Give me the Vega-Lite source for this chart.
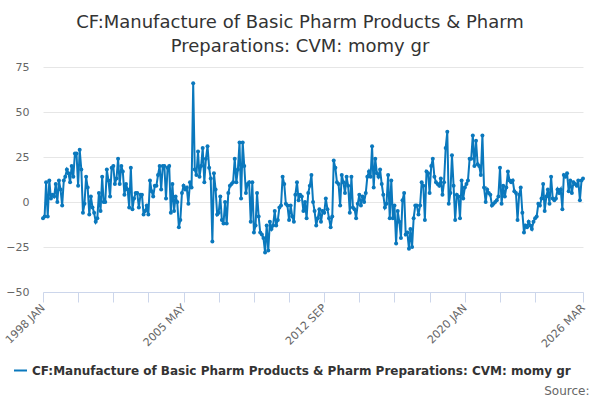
{
  "$schema": "https://vega.github.io/schema/vega-lite/v6.json",
  "autosize": {"type": "none"},
  "width": 540,
  "height": 225,
  "padding": {"left": 43, "top": 67, "right": 17, "bottom": 108},
  "background": "white",
  "config": {"font": "DejaVu Sans", "view": {"stroke": null}},
  "title": {
    "text": ["CF:Manufacture of Basic Pharm Products & Pharm", "Preparations: CVM: momy gr"],
    "fontSize": 18,
    "fontWeight": "normal",
    "color": "#333333",
    "font": "DejaVu Sans",
    "anchor": "middle",
    "frame": "group",
    "dx": -13,
    "offset": 5,
    "lineHeight": 24
  },
  "data": {
    "format": {"parse": {"d": "utc:'%Y-%m'"}},
    "values": [
      {"d":"1998-01","v":-9},{"d":"1998-02","v":-8},{"d":"1998-03","v":11},{"d":"1998-04","v":-8},{"d":"1998-05","v":12},{"d":"1998-06","v":2},{"d":"1998-07","v":4},{"d":"1998-08","v":3},{"d":"1998-09","v":10},{"d":"1998-10","v":0},{"d":"1998-11","v":12},{"d":"1998-12","v":7},
      {"d":"1999-01","v":-2},{"d":"1999-02","v":12},{"d":"1999-03","v":14},{"d":"1999-04","v":18},{"d":"1999-05","v":16},{"d":"1999-06","v":11},{"d":"1999-07","v":20},{"d":"1999-08","v":14},{"d":"1999-09","v":27},{"d":"1999-10","v":27},{"d":"1999-11","v":9},{"d":"1999-12","v":29},
      {"d":"2000-01","v":18},{"d":"2000-02","v":-6},{"d":"2000-03","v":-1},{"d":"2000-04","v":14},{"d":"2000-05","v":8},{"d":"2000-06","v":-7},{"d":"2000-07","v":3},{"d":"2000-08","v":-3},{"d":"2000-09","v":-6},{"d":"2000-10","v":-11},{"d":"2000-11","v":-9},{"d":"2000-12","v":5},
      {"d":"2001-01","v":-5},{"d":"2001-02","v":14},{"d":"2001-03","v":0},{"d":"2001-04","v":0},{"d":"2001-05","v":18},{"d":"2001-06","v":12},{"d":"2001-07","v":3},{"d":"2001-08","v":19},{"d":"2001-09","v":20},{"d":"2001-10","v":10},{"d":"2001-11","v":13},{"d":"2001-12","v":24},
      {"d":"2002-01","v":10},{"d":"2002-02","v":20},{"d":"2002-03","v":17},{"d":"2002-04","v":4},{"d":"2002-05","v":10},{"d":"2002-06","v":7},{"d":"2002-07","v":-3},{"d":"2002-08","v":19},{"d":"2002-09","v":-4},{"d":"2002-10","v":2},{"d":"2002-11","v":5},{"d":"2002-12","v":5},
      {"d":"2003-01","v":-3},{"d":"2003-02","v":4},{"d":"2003-03","v":4},{"d":"2003-04","v":-7},{"d":"2003-05","v":-5},{"d":"2003-06","v":-2},{"d":"2003-07","v":-7},{"d":"2003-08","v":12},{"d":"2003-09","v":6},{"d":"2003-10","v":3},{"d":"2003-11","v":9},{"d":"2003-12","v":9},
      {"d":"2004-01","v":15},{"d":"2004-02","v":20},{"d":"2004-03","v":7},{"d":"2004-04","v":20},{"d":"2004-05","v":20},{"d":"2004-06","v":2},{"d":"2004-07","v":19},{"d":"2004-08","v":20},{"d":"2004-09","v":-6},{"d":"2004-10","v":10},{"d":"2004-11","v":-5},{"d":"2004-12","v":3},
      {"d":"2005-01","v":0},{"d":"2005-02","v":-14},{"d":"2005-03","v":-10},{"d":"2005-04","v":5},{"d":"2005-05","v":9},{"d":"2005-06","v":7},{"d":"2005-07","v":8},{"d":"2005-08","v":-1},{"d":"2005-09","v":11},{"d":"2005-10","v":8},{"d":"2005-11","v":66},{"d":"2005-12","v":18},
      {"d":"2006-01","v":15},{"d":"2006-02","v":28},{"d":"2006-03","v":14},{"d":"2006-04","v":20},{"d":"2006-05","v":30},{"d":"2006-06","v":11},{"d":"2006-07","v":24},{"d":"2006-08","v":31},{"d":"2006-09","v":19},{"d":"2006-10","v":13},{"d":"2006-11","v":-22},{"d":"2006-12","v":16},
      {"d":"2007-01","v":7},{"d":"2007-02","v":-7},{"d":"2007-03","v":-6},{"d":"2007-04","v":3},{"d":"2007-05","v":-10},{"d":"2007-06","v":-12},{"d":"2007-07","v":0},{"d":"2007-08","v":-12},{"d":"2007-09","v":5},{"d":"2007-10","v":9},{"d":"2007-11","v":10},{"d":"2007-12","v":11},
      {"d":"2008-01","v":24},{"d":"2008-02","v":11},{"d":"2008-03","v":18},{"d":"2008-04","v":33},{"d":"2008-05","v":2},{"d":"2008-06","v":33},{"d":"2008-07","v":20},{"d":"2008-08","v":5},{"d":"2008-09","v":10},{"d":"2008-10","v":11},{"d":"2008-11","v":-11},{"d":"2008-12","v":11},
      {"d":"2009-01","v":-17},{"d":"2009-02","v":-13},{"d":"2009-03","v":5},{"d":"2009-04","v":-8},{"d":"2009-05","v":-17},{"d":"2009-06","v":-18},{"d":"2009-07","v":-20},{"d":"2009-08","v":-28},{"d":"2009-09","v":-13},{"d":"2009-10","v":-27},{"d":"2009-11","v":-11},{"d":"2009-12","v":-15},
      {"d":"2010-01","v":-13},{"d":"2010-02","v":-5},{"d":"2010-03","v":-13},{"d":"2010-04","v":-10},{"d":"2010-05","v":-3},{"d":"2010-06","v":-2},{"d":"2010-07","v":14},{"d":"2010-08","v":10},{"d":"2010-09","v":-1},{"d":"2010-10","v":-2},{"d":"2010-11","v":-10},{"d":"2010-12","v":-2},
      {"d":"2011-01","v":-8},{"d":"2011-02","v":-11},{"d":"2011-03","v":4},{"d":"2011-04","v":11},{"d":"2011-05","v":1},{"d":"2011-06","v":4},{"d":"2011-07","v":3},{"d":"2011-08","v":-5},{"d":"2011-09","v":0},{"d":"2011-10","v":-9},{"d":"2011-11","v":5},{"d":"2011-12","v":9},
      {"d":"2012-01","v":15},{"d":"2012-02","v":0},{"d":"2012-03","v":-5},{"d":"2012-04","v":-13},{"d":"2012-05","v":-9},{"d":"2012-06","v":-4},{"d":"2012-07","v":-11},{"d":"2012-08","v":-5},{"d":"2012-09","v":-6},{"d":"2012-10","v":2},{"d":"2012-11","v":-4},{"d":"2012-12","v":-9},
      {"d":"2013-01","v":-14},{"d":"2013-02","v":-8},{"d":"2013-03","v":23},{"d":"2013-04","v":19},{"d":"2013-05","v":11},{"d":"2013-06","v":10},{"d":"2013-07","v":-2},{"d":"2013-08","v":15},{"d":"2013-09","v":11},{"d":"2013-10","v":5},{"d":"2013-11","v":14},{"d":"2013-12","v":9},
      {"d":"2014-01","v":-6},{"d":"2014-02","v":14},{"d":"2014-03","v":-3},{"d":"2014-04","v":-4},{"d":"2014-05","v":-9},{"d":"2014-06","v":-1},{"d":"2014-07","v":4},{"d":"2014-08","v":-2},{"d":"2014-09","v":3},{"d":"2014-10","v":0},{"d":"2014-11","v":5},{"d":"2014-12","v":14},
      {"d":"2015-01","v":17},{"d":"2015-02","v":14},{"d":"2015-03","v":31},{"d":"2015-04","v":8},{"d":"2015-05","v":24},{"d":"2015-06","v":16},{"d":"2015-07","v":14},{"d":"2015-08","v":18},{"d":"2015-09","v":10},{"d":"2015-10","v":4},{"d":"2015-11","v":-3},{"d":"2015-12","v":-1},
      {"d":"2016-01","v":15},{"d":"2016-02","v":-9},{"d":"2016-03","v":12},{"d":"2016-04","v":-9},{"d":"2016-05","v":-2},{"d":"2016-06","v":-23},{"d":"2016-07","v":-5},{"d":"2016-08","v":-11},{"d":"2016-09","v":-20},{"d":"2016-10","v":1},{"d":"2016-11","v":5},{"d":"2016-12","v":-18},
      {"d":"2017-01","v":-17},{"d":"2017-02","v":-26},{"d":"2017-03","v":-15},{"d":"2017-04","v":-25},{"d":"2017-05","v":-9},{"d":"2017-06","v":-2},{"d":"2017-07","v":-2},{"d":"2017-08","v":-7},{"d":"2017-09","v":-2},{"d":"2017-10","v":11},{"d":"2017-11","v":9},{"d":"2017-12","v":-10},
      {"d":"2018-01","v":17},{"d":"2018-02","v":16},{"d":"2018-03","v":5},{"d":"2018-04","v":20},{"d":"2018-05","v":24},{"d":"2018-06","v":14},{"d":"2018-07","v":11},{"d":"2018-08","v":10},{"d":"2018-09","v":9},{"d":"2018-10","v":13},{"d":"2018-11","v":4},{"d":"2018-12","v":11},
      {"d":"2019-01","v":30},{"d":"2019-02","v":39},{"d":"2019-03","v":-1},{"d":"2019-04","v":5},{"d":"2019-05","v":26},{"d":"2019-06","v":9},{"d":"2019-07","v":-10},{"d":"2019-08","v":4},{"d":"2019-09","v":3},{"d":"2019-10","v":-9},{"d":"2019-11","v":12},{"d":"2019-12","v":2},
      {"d":"2020-01","v":8},{"d":"2020-02","v":10},{"d":"2020-03","v":12},{"d":"2020-04","v":24},{"d":"2020-05","v":24},{"d":"2020-06","v":37},{"d":"2020-07","v":20},{"d":"2020-08","v":34},{"d":"2020-09","v":21},{"d":"2020-10","v":20},{"d":"2020-11","v":15},{"d":"2020-12","v":37},
      {"d":"2021-01","v":8},{"d":"2021-02","v":0},{"d":"2021-03","v":7},{"d":"2021-04","v":5},{"d":"2021-05","v":4},{"d":"2021-06","v":-2},{"d":"2021-07","v":-1},{"d":"2021-08","v":0},{"d":"2021-09","v":1},{"d":"2021-10","v":3},{"d":"2021-11","v":19},{"d":"2021-12","v":-1},
      {"d":"2022-01","v":9},{"d":"2022-02","v":3},{"d":"2022-03","v":8},{"d":"2022-04","v":17},{"d":"2022-05","v":12},{"d":"2022-06","v":11},{"d":"2022-07","v":12},{"d":"2022-08","v":6},{"d":"2022-09","v":5},{"d":"2022-10","v":-10},{"d":"2022-11","v":4},{"d":"2022-12","v":8},
      {"d":"2023-01","v":-6},{"d":"2023-02","v":-17},{"d":"2023-03","v":-13},{"d":"2023-04","v":-14},{"d":"2023-05","v":-11},{"d":"2023-06","v":-13},{"d":"2023-07","v":-15},{"d":"2023-08","v":-11},{"d":"2023-09","v":-9},{"d":"2023-10","v":-8},{"d":"2023-11","v":-1},{"d":"2023-12","v":-2},
      {"d":"2024-01","v":2},{"d":"2024-02","v":10},{"d":"2024-03","v":-5},{"d":"2024-04","v":3},{"d":"2024-05","v":7},{"d":"2024-06","v":-1},{"d":"2024-07","v":14},{"d":"2024-08","v":2},{"d":"2024-09","v":1},{"d":"2024-10","v":2},{"d":"2024-11","v":7},{"d":"2024-12","v":5},
      {"d":"2025-01","v":7},{"d":"2025-02","v":-4},{"d":"2025-03","v":15},{"d":"2025-04","v":14},{"d":"2025-05","v":16},{"d":"2025-06","v":6},{"d":"2025-07","v":12},{"d":"2025-08","v":5},{"d":"2025-09","v":11},{"d":"2025-10","v":10},{"d":"2025-11","v":9},{"d":"2025-12","v":12},
      {"d":"2026-01","v":1},{"d":"2026-02","v":12},{"d":"2026-03","v":13}
    ]
  },
  "mark": {"type": "line", "strokeWidth": 2, "point": {"filled": true, "size": 16}},
  "encoding": {
    "x": {
      "field": "d",
      "type": "temporal",
      "scale": {"type": "utc", "nice": false, "domain": [{"year": 1998, "month": 1, "date": 1, "utc": true}, {"year": 2026, "month": 3, "date": 1, "utc": true}]},
      "axis": {
        "title": "Source:",
        "titleAnchor": "end",
        "titleAlign": "right",
        "titleBaseline": "middle",
        "titleX": 546,
        "titleY": 98,
        "titleFontSize": 12,
        "titleFontWeight": "normal",
        "titleColor": "#666666",
        "titleFont": "DejaVu Sans",
        "values": [
          {"year": 1998, "month": 1, "date": 1, "utc": true},
          {"year": 1999, "month": 11, "date": 1, "utc": true},
          {"year": 2001, "month": 9, "date": 1, "utc": true},
          {"year": 2003, "month": 7, "date": 1, "utc": true},
          {"year": 2005, "month": 5, "date": 1, "utc": true},
          {"year": 2007, "month": 3, "date": 1, "utc": true},
          {"year": 2009, "month": 1, "date": 1, "utc": true},
          {"year": 2010, "month": 11, "date": 1, "utc": true},
          {"year": 2012, "month": 9, "date": 1, "utc": true},
          {"year": 2014, "month": 7, "date": 1, "utc": true},
          {"year": 2016, "month": 5, "date": 1, "utc": true},
          {"year": 2018, "month": 3, "date": 1, "utc": true},
          {"year": 2020, "month": 1, "date": 1, "utc": true},
          {"year": 2021, "month": 11, "date": 1, "utc": true},
          {"year": 2023, "month": 9, "date": 1, "utc": true},
          {"year": 2026, "month": 3, "date": 1, "utc": true}
        ],
        "labelExpr": "indexof(['1998-01','2005-05','2012-09','2020-01','2026-03'], utcFormat(datum.value, '%Y-%m')) >= 0 ? upper(utcFormat(datum.value, '%Y %b')) : ''",
        "labelAngle": -45,
        "labelAlign": "right",
        "labelBaseline": "middle",
        "labelFontSize": 11,
        "labelColor": "#666666",
        "labelFont": "DejaVu Sans",
        "labelOverlap": false,
        "labelPadding": 4,
        "grid": false,
        "domainColor": "#ccd6eb",
        "tickColor": "#ccd6eb",
        "tickSize": 10
      }
    },
    "y": {
      "field": "v",
      "type": "quantitative",
      "scale": {"domain": [-50, 75], "nice": false},
      "axis": {
        "title": null,
        "values": [-50, -25, 0, 25, 50, 75],
        "domain": false,
        "ticks": false,
        "gridColor": "#e6e6e6",
        "labelFontSize": 11,
        "labelColor": "#666666",
        "labelFont": "DejaVu Sans",
        "labelPadding": 14
      }
    },
    "color": {
      "datum": "CF:Manufacture of Basic Pharm Products & Pharm Preparations: CVM: momy gr",
      "scale": {"range": ["#0a78bd"]},
      "legend": {
        "title": null,
        "orient": "none",
        "legendX": -30,
        "legendY": 296,
        "symbolType": "stroke",
        "symbolSize": 169,
        "symbolStrokeWidth": 2,
        "labelFontSize": 12,
        "labelFontWeight": "bold",
        "labelColor": "#333333",
        "labelFont": "DejaVu Sans",
        "labelLimit": 0
      }
    }
  }
}
